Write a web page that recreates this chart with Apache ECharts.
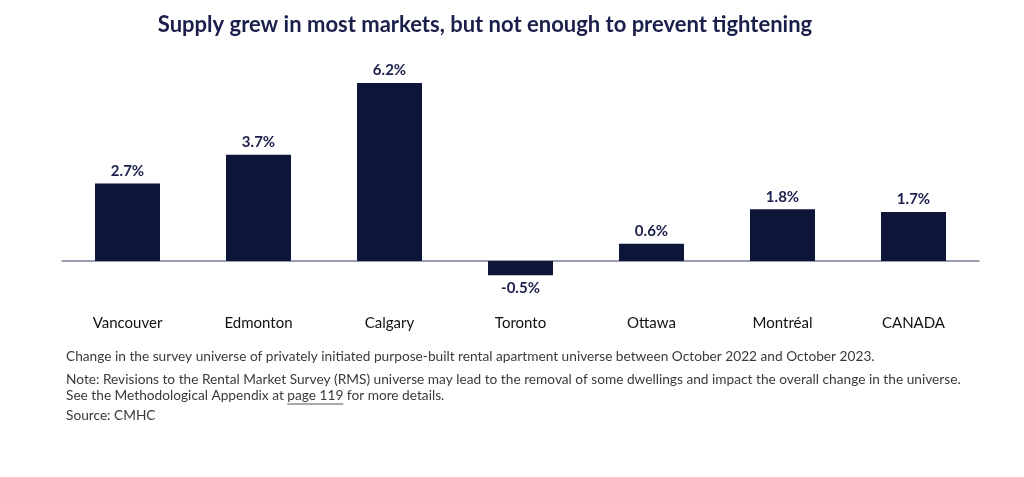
<!DOCTYPE html>
<html><head><meta charset="utf-8">
<script src="https://cdn.jsdelivr.net/npm/echarts@6/dist/echarts.min.js"></script>
<style>html,body{margin:0;padding:0;background:#fff}#c{width:1024px;height:477px}</style>
</head><body><div id="c"></div>
<script>
const categories = ['Vancouver','Edmonton','Calgary','Toronto','Ottawa','Montréal','CANADA'];
const values = [2.7, 3.7, 6.2, -0.5, 0.6, 1.8, 1.7];
const titleText = 'Supply grew in most markets, but not enough to prevent tightening';
const notes = [
  'Change in the survey universe of privately initiated purpose-built rental apartment universe between October 2022 and October 2023.',
  'Note: Revisions to the Rental Market Survey (RMS) universe may lead to the removal of some dwellings and impact the overall change in the universe.',
  'See the Methodological Appendix at ',
  'page 119',
  ' for more details.',
  'Source: CMHC'
];
const navy = '#0d1538';
const font = 'Lato';
const noteFont = '13.7px ' + font;
const noteColor = '#3a3a3a';
const ctx = document.createElement('canvas').getContext('2d');
ctx.font = noteFont;
const w1 = ctx.measureText(notes[2]).width;
const w2 = ctx.measureText(notes[3]).width;
const nx = 66;
const chart = echarts.init(document.getElementById('c'));
chart.setOption({
  animation: false,
  title: {text: titleText, left: 480, top: 9, textAlign: 'center',
    textStyle: {fontFamily: font, fontWeight: 'bold', fontSize: 22, color: '#1a1f4b'}},
  grid: {left: 62, right: 45, top: 60, height: 229.6},
  xAxis: {type: 'category', data: categories,
    axisLine: {onZero: true, lineStyle: {color: '#7a7f99', width: 1.5}},
    axisTick: {show: false},
    axisLabel: {margin: 26, fontFamily: font, fontSize: 15, color: '#111'}},
  yAxis: {type: 'value', min: -1, max: 7, show: false, splitLine: {show: false}},
  series: [{type: 'bar', data: values, barWidth: 65,
    itemStyle: {color: navy},
    label: {show: true, position: 'outside', formatter: p => p.value.toFixed(1) + '%',
      fontFamily: font, fontWeight: 'bold', fontSize: 15, color: '#1a1f4b', distance: 5}
  }],
  graphic: [
    {type: 'text', x: nx, y: 357, style: {text: notes[0], font: noteFont, fill: noteColor, verticalAlign: 'middle'}},
    {type: 'text', x: nx, y: 380, style: {text: notes[1], font: noteFont, fill: noteColor, verticalAlign: 'middle'}},
    {type: 'text', x: nx, y: 396, style: {text: notes[2] + notes[3] + notes[4], font: noteFont, fill: noteColor, verticalAlign: 'middle'}},
    {type: 'line', shape: {x1: nx + w1, y1: 404, x2: nx + w1 + w2, y2: 404}, style: {stroke: '#555', lineWidth: 1}},
    {type: 'text', x: nx, y: 416, style: {text: notes[5], font: noteFont, fill: noteColor, verticalAlign: 'middle'}}
  ]
});
</script></body></html>
